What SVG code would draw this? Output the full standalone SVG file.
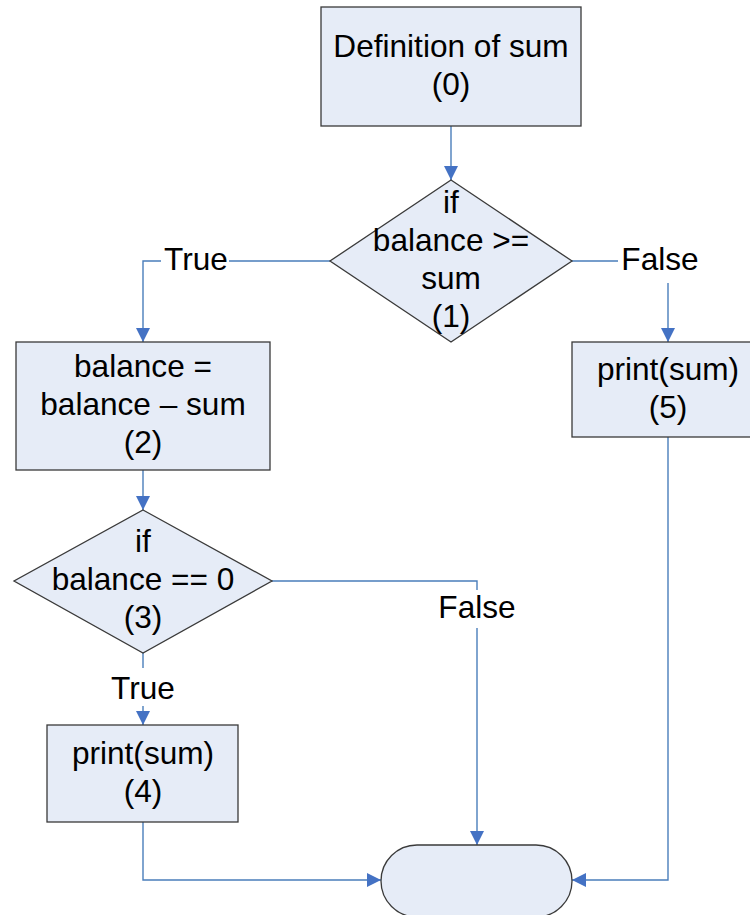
<svg xmlns="http://www.w3.org/2000/svg" width="750" height="915" viewBox="0 0 750 915">
  <style>
    .shape { fill: #e6ecf7; stroke: #3a3a3a; stroke-width: 1.3; }
    .edge { fill: none; stroke: #4a7ebb; stroke-width: 1.4; marker-end: url(#arrow); }
    .txt { font-family: "Liberation Sans", Arial, sans-serif; font-size: 31.6px; fill: #000; text-anchor: middle; }
    .lblbg { fill: #ffffff; }
  </style>
  <defs>
    <marker id="arrow" markerUnits="userSpaceOnUse" markerWidth="14" markerHeight="14" viewBox="0 0 14 14" refX="14" refY="7" orient="auto">
      <path d="M0,0 L14,7 L0,14 Z" fill="#4472c4"/>
    </marker>
  </defs>

  <rect width="750" height="915" fill="#ffffff"/>

  <!-- connectors -->
  <g id="connectors">
    <path class="edge" d="M451,126 V180"/>
    <path class="edge" d="M330,261 H143 V342"/>
    <path class="edge" d="M572,261 H668 V342"/>
    <path class="edge" d="M143,470 V510"/>
    <path class="edge" d="M272,581 H477 V845"/>
    <path class="edge" d="M143,653 V725"/>
    <path class="edge" d="M143,822 V880 H381"/>
    <path class="edge" d="M668,437 V880 H572"/>
    <!-- branch labels -->
    <g id="label-true-1">
      <rect class="lblbg" x="161" y="245" width="68" height="32"/>
      <text class="txt" x="196" y="270">True</text>
    </g>
    <g id="label-false-1">
      <rect class="lblbg" x="618" y="245" width="84" height="38"/>
      <text class="txt" x="660" y="270">False</text>
    </g>
    <g id="label-false-3">
      <rect class="lblbg" x="436" y="590" width="82" height="38"/>
      <text class="txt" x="477" y="618">False</text>
    </g>
    <g id="label-true-3">
      <rect class="lblbg" x="108" y="668" width="70" height="38"/>
      <text class="txt" x="143" y="699">True</text>
    </g>
  </g>

  <!-- (0) definition -->
  <g id="node0">
    <rect class="shape" x="321" y="7" width="260" height="119"/>
    <text class="txt" x="451" y="57">Definition of sum</text>
    <text class="txt" x="451" y="95">(0)</text>
  </g>

  <!-- (1) decision -->
  <g id="node1">
    <polygon class="shape" points="451,180 572,261 451,342 330,261"/>
    <text class="txt" x="451" y="213">if</text>
    <text class="txt" x="451" y="251">balance &gt;=</text>
    <text class="txt" x="451" y="289">sum</text>
    <text class="txt" x="451" y="327">(1)</text>
  </g>

  <!-- (2) subtraction -->
  <g id="node2">
    <rect class="shape" x="16" y="342" width="254" height="128"/>
    <text class="txt" x="143" y="377">balance =</text>
    <text class="txt" x="143" y="415">balance – sum</text>
    <text class="txt" x="143" y="453">(2)</text>
  </g>

  <!-- (3) decision -->
  <g id="node3">
    <polygon class="shape" points="143,510 272,581 143,653 14,581"/>
    <text class="txt" x="143" y="552">if</text>
    <text class="txt" x="143" y="590">balance == 0</text>
    <text class="txt" x="143" y="628">(3)</text>
  </g>

  <!-- (4) print -->
  <g id="node4">
    <rect class="shape" x="47" y="725" width="191" height="97"/>
    <text class="txt" x="143" y="764">print(sum)</text>
    <text class="txt" x="143" y="802">(4)</text>
  </g>

  <!-- (5) print -->
  <g id="node5">
    <rect class="shape" x="572" y="342" width="192" height="95"/>
    <text class="txt" x="668" y="380">print(sum)</text>
    <text class="txt" x="668" y="418">(5)</text>
  </g>

  <!-- end terminal -->
  <g id="end">
    <rect class="shape" x="381" y="845" width="191" height="72" rx="36" ry="36"/>
  </g>
</svg>
